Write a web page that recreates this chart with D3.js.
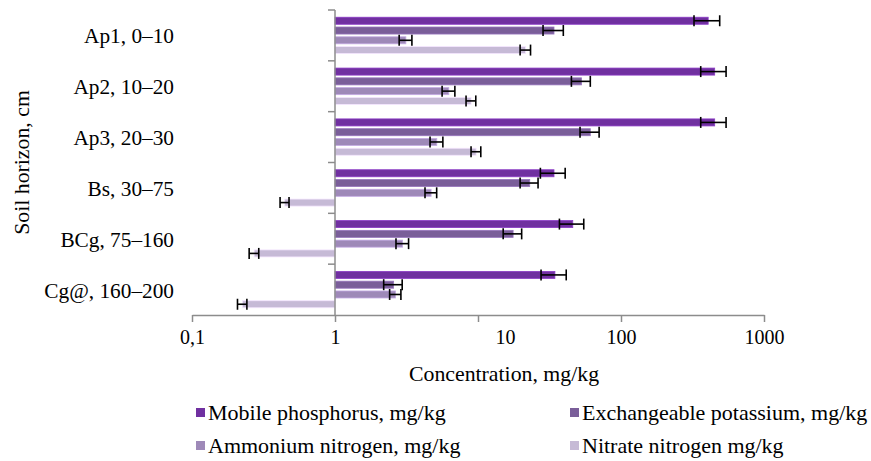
<!DOCTYPE html>
<html>
<head>
<meta charset="utf-8">
<script src="https://cdn.jsdelivr.net/npm/d3@7"></script>
</head>
<body style="margin:0;background:#fff">
<svg id="chart" width="871" height="461" font-family="Liberation Serif"></svg>
<script>
// ---- data ----
const categories = ["Ap1, 0–10", "Ap2, 10–20", "Ap3, 20–30", "Bs, 30–75", "BCg, 75–160", "Cg@, 160–200"];
const seriesNames = ["Mobile phosphorus, mg/kg", "Exchangeable potassium, mg/kg", "Ammonium nitrogen, mg/kg", "Nitrate nitrogen mg/kg"];
const phosphorus    = [407, 452, 452, 34, 46, 34.5];
const phosphorusErr = [83, 91, 91, 6.7, 8.9, 6.9];
const potassium     = [34, 53, 61, 23, 17.6, 2.57];
const potassiumErr  = [5.5, 8, 9.3, 3.3, 2.6, 0.38];
const ammonium      = [3.13, 6.25, 5.15, 4.7, 2.97, 2.65];
const ammoniumErr   = [0.32, 0.64, 0.53, 0.44, 0.3, 0.24];
const nitrate       = [21.5, 8.95, 9.7, 0.445, 0.272, 0.225];
const nitrateErr    = [1.8, 0.7, 0.76, 0.032, 0.021, 0.017];
const xTicks = [0.1, 1, 10, 100, 1000];
const xTickLabels = ["0,1", "1", "10", "100", "1000"];
const colors = ["#7030a0", "#7a5e99", "#9e89b8", "#c6bad6"];

const seriesValues = [phosphorus, potassium, ammonium, nitrate];
const seriesErrors = [phosphorusErr, potassiumErr, ammoniumErr, nitrateErr];
const FONT = "Liberation Serif";

// ---- layout ----
const svg = d3.select("#chart");
const plot = { left: 192, right: 764, top: 10, bottom: 315 };
const axisColor = "#8c8c8c";

const x = d3.scaleLog().domain([0.1, 1000]).range([plot.left, plot.right]);
const y0 = d3.scaleBand().domain(categories).range([plot.top, plot.bottom]).paddingInner(0).paddingOuter(0);
const y1 = d3.scaleBand().domain(d3.range(seriesNames.length)).range([0, y0.bandwidth()])
  .paddingInner(0.28).paddingOuter(0.74);

const rows = [];
categories.forEach((c, ci) => {
  seriesValues.forEach((vals, si) => {
    rows.push({ cat: c, s: si, v: vals[ci], e: seriesErrors[si][ci] });
  });
});

// bars
svg.append("g").selectAll("rect").data(rows).join("rect")
  .attr("x", d => Math.min(x(1), x(d.v)))
  .attr("y", d => y0(d.cat) + y1(d.s))
  .attr("width", d => Math.abs(x(d.v) - x(1)))
  .attr("height", y1.bandwidth())
  .attr("fill", d => colors[d.s])
  .attr("stroke", d => d3.color(colors[d.s]).brighter(0.6))
  .attr("stroke-width", 0.8);

// error bars
const eg = svg.append("g").attr("stroke", "#000").attr("stroke-width", 1.6);
rows.forEach(d => {
  const cy = y0(d.cat) + y1(d.s) + y1.bandwidth() / 2;
  const xl = x(d.v - d.e), xr = x(d.v + d.e);
  eg.append("line").attr("x1", xl).attr("x2", xr).attr("y1", cy).attr("y2", cy);
  eg.append("line").attr("x1", xl).attr("x2", xl).attr("y1", cy - 5.5).attr("y2", cy + 5.5);
  eg.append("line").attr("x1", xr).attr("x2", xr).attr("y1", cy - 5.5).attr("y2", cy + 5.5);
});

// x axis
const xAxis = d3.axisBottom(x).tickValues(xTicks)
  .tickFormat((d, i) => xTickLabels[i]).tickSize(7).tickSizeOuter(0).tickPadding(8);
const gx = svg.append("g").attr("transform", `translate(0,${plot.bottom})`).call(xAxis);
gx.attr("font-family", FONT).attr("font-size", 20);
gx.select(".domain").attr("stroke", axisColor).attr("stroke-width", 1.5);
gx.selectAll(".tick line").attr("stroke", axisColor).attr("stroke-width", 1.5);
gx.selectAll(".tick text").attr("fill", "#000").attr("font-size", 20)
  .attr("font-family", FONT)
  .attr("dx", d => d === 10 ? 27 : 0);

// y axis at x = 1
const yTickPos = d3.range(categories.length + 1).map(i => plot.top + i * y0.step());
const gy = svg.append("g");
gy.append("line").attr("x1", x(1)).attr("x2", x(1)).attr("y1", plot.top).attr("y2", plot.bottom)
  .attr("stroke", axisColor).attr("stroke-width", 1.5);
gy.selectAll("line.t").data(yTickPos.slice(0, -1)).join("line").attr("class", "t")
  .attr("x1", x(1) - 7).attr("x2", x(1)).attr("y1", d => d).attr("y2", d => d)
  .attr("stroke", axisColor).attr("stroke-width", 1.5);

// category labels
svg.append("g").selectAll("text").data(categories).join("text")
  .attr("x", 174).attr("y", d => y0(d) + y0.bandwidth() / 2 + 8)
  .attr("text-anchor", "end").attr("font-size", 21.3).attr("fill", "#000")
  .attr("font-family", FONT)
  .text(d => d);

// axis titles
svg.append("text").attr("x", 504).attr("y", 381).attr("text-anchor", "middle")
  .attr("font-size", 21.8).attr("fill", "#000").attr("font-family", FONT)
  .text("Concentration, mg/kg");
svg.append("text").attr("transform", `translate(29,${(plot.top + plot.bottom) / 2}) rotate(-90)`)
  .attr("text-anchor", "middle").attr("font-size", 21.8).attr("fill", "#000").attr("font-family", FONT)
  .text("Soil horizon, cm");

// legend
const legendPos = [[196, 420], [570, 420], [196, 453], [570, 453]];
const lg = svg.append("g").selectAll("g").data(seriesNames).join("g")
  .attr("transform", (d, i) => `translate(${legendPos[i][0]},${legendPos[i][1]})`);
lg.append("rect").attr("x", 0).attr("y", -12).attr("width", 9).attr("height", 9)
  .attr("fill", (d, i) => colors[i]);
lg.append("text").attr("x", 12).attr("y", 0).attr("font-size", 22).attr("fill", "#000")
  .attr("font-family", FONT).text(d => d);
</script>
</body>
</html>
